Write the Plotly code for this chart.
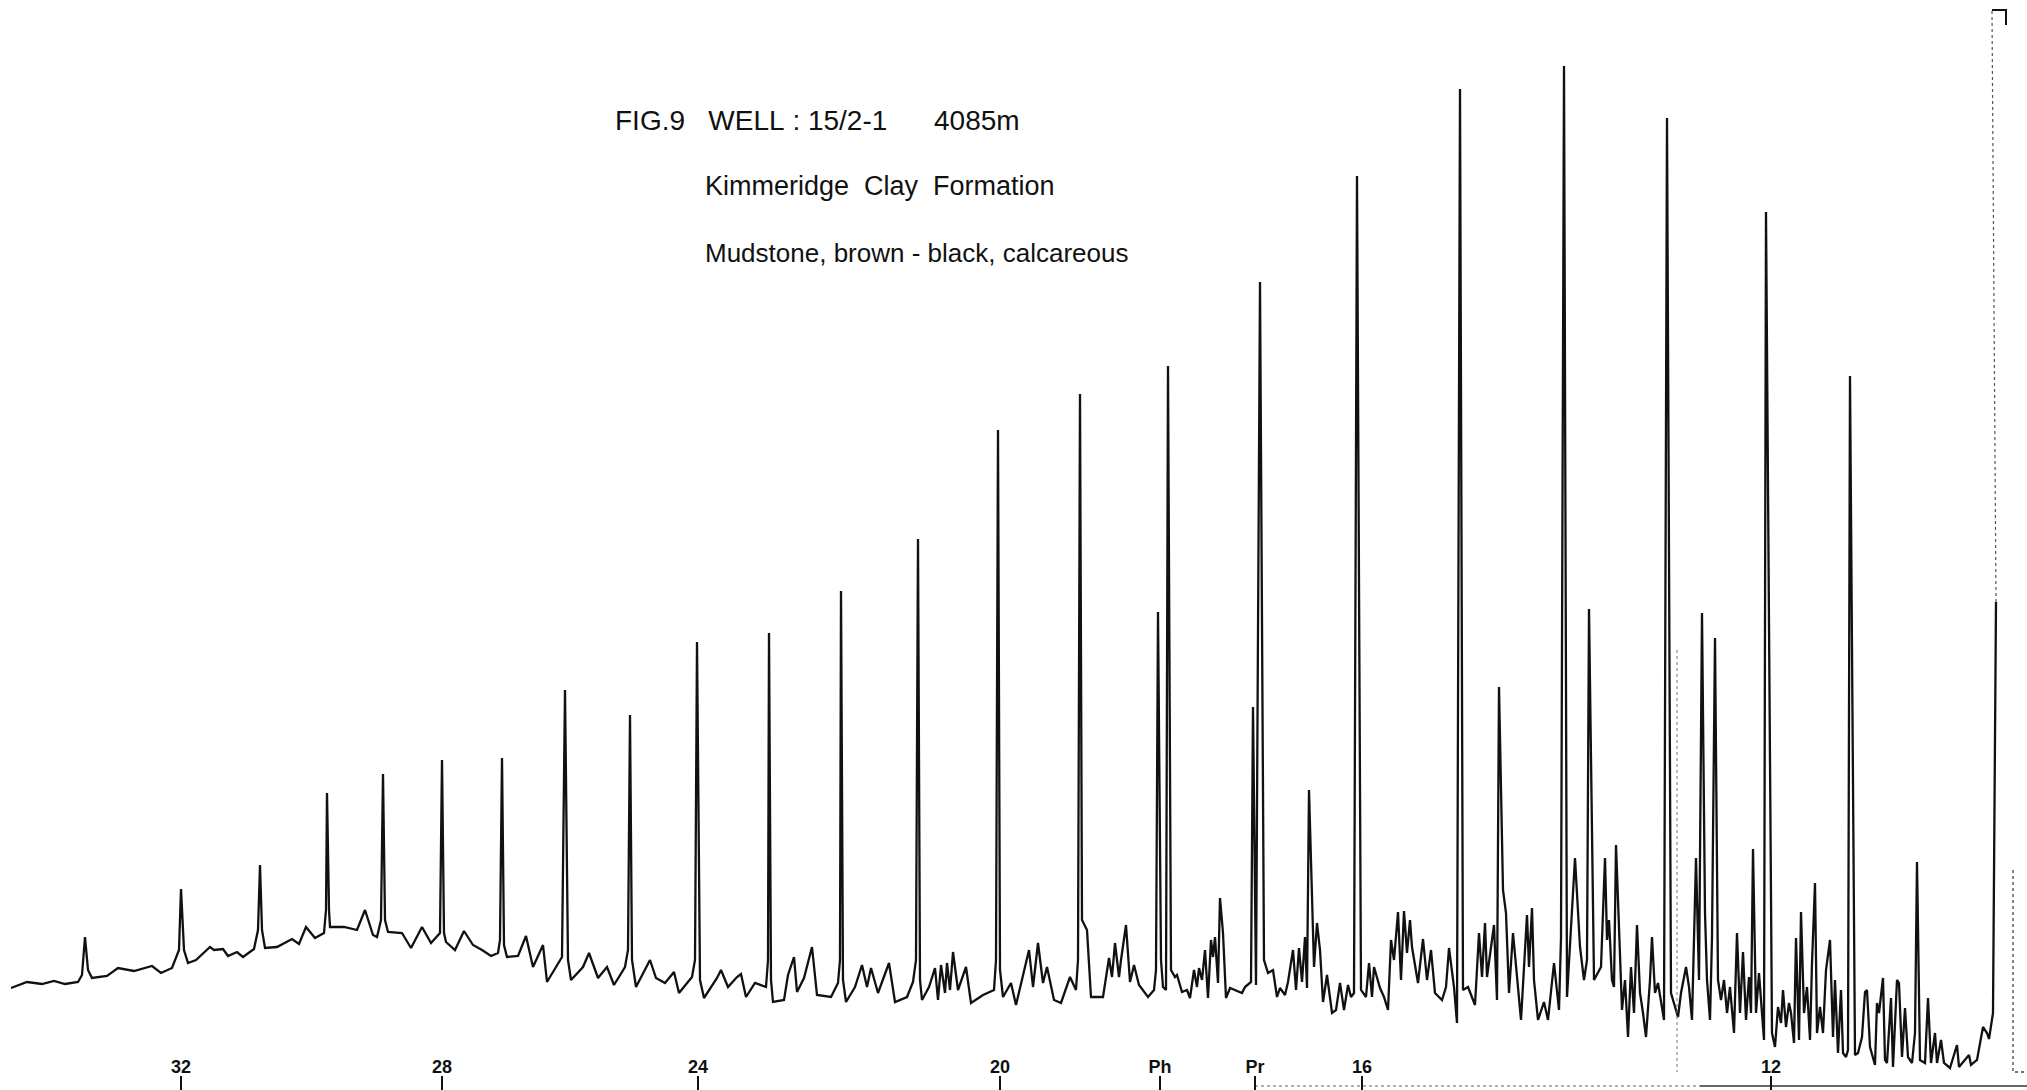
import plotly.graph_objects as go

# ---- Major resolved peaks (n-alkanes, pristane, phytane, solvent front) ----
peak_rt = [85, 181, 260, 327, 383, 442, 502, 565, 630, 697, 769, 841, 918, 998,
           1080, 1158, 1168, 1253, 1260, 1309, 1357, 1460, 1499, 1564, 1589,
           1667, 1702, 1715, 1766, 1850, 1917, 1996]
peak_height = [153, 201, 225, 297, 316, 330, 332, 400, 375, 448, 457, 499, 551, 660,
               696, 478, 724, 383, 808, 300, 914, 1001, 403, 1024, 481,
               972, 477, 452, 878, 714, 228, 488]

# ---- Baseline / unresolved hump and minor peaks ----
trace_rt = [11, 27, 42, 54, 65, 78, 82, 88, 92, 107, 118, 134, 152, 161, 172, 179, 184, 188, 196,
            210, 214, 223, 228, 237, 243, 254, 258, 262, 265, 277, 292, 299, 306, 315, 324, 326,
            329, 330, 344, 357, 365, 373, 377, 381, 385, 388, 402, 411, 422, 431, 440, 444, 446,
            455, 464, 473, 482, 491, 498, 500, 504, 507, 518, 526, 533, 543, 547, 562, 568, 571,
            583, 589, 598, 607, 614, 625, 628, 632, 636, 650, 656, 665, 674, 679, 692, 695, 700,
            704, 717, 721, 728, 737, 741, 746, 755, 766, 768, 771, 773, 784, 788, 794, 797, 804,
            812, 817, 831, 838, 840, 843, 846, 855, 862, 867, 871, 878, 889, 895, 907, 913, 916,
            920, 922, 929, 935, 938, 941, 945, 947, 950, 953, 958, 966, 971, 983, 994, 996, 1000,
            1003, 1011, 1016, 1024, 1029, 1033, 1038, 1043, 1047, 1054, 1061, 1070, 1076, 1078,
            1082, 1087, 1091, 1103, 1109, 1112, 1115, 1119, 1121, 1126, 1130, 1134, 1139, 1148,
            1154, 1156, 1161, 1163, 1166, 1171, 1175, 1177, 1182, 1187, 1190, 1194, 1197, 1199,
            1202, 1205, 1208, 1211, 1213, 1215, 1218, 1220, 1223, 1226, 1230, 1242, 1245, 1251,
            1256, 1264, 1268, 1273, 1277, 1280, 1285, 1288, 1293, 1296, 1299, 1302, 1305, 1307,
            1314, 1317, 1320, 1323, 1327, 1332, 1336, 1340, 1344, 1348, 1351, 1354, 1361, 1366,
            1369, 1372, 1374, 1380, 1384, 1388, 1391, 1394, 1398, 1401, 1404, 1407, 1410, 1412,
            1418, 1423, 1427, 1431, 1435, 1442, 1446, 1449, 1454, 1457, 1463, 1468, 1475, 1479,
            1482, 1485, 1487, 1494, 1497, 1503, 1506, 1509, 1513, 1521, 1527, 1529, 1532, 1534,
            1538, 1544, 1548, 1551, 1554, 1559, 1561, 1567, 1575, 1580, 1584, 1587, 1592, 1594,
            1601, 1605, 1607, 1609, 1612, 1614, 1616, 1619, 1622, 1625, 1628, 1631, 1634, 1637,
            1640, 1643, 1646, 1650, 1652, 1655, 1658, 1664, 1671, 1678, 1681, 1686, 1689, 1692,
            1696, 1699, 1705, 1707, 1710, 1712, 1718, 1721, 1724, 1727, 1730, 1734, 1737, 1740,
            1743, 1746, 1749, 1751, 1753, 1756, 1759, 1762, 1764, 1772, 1775, 1778, 1781, 1783,
            1786, 1789, 1791, 1794, 1796, 1799, 1801, 1804, 1807, 1810, 1812, 1815, 1817, 1820,
            1823, 1826, 1830, 1833, 1835, 1838, 1841, 1843, 1846, 1848, 1855, 1858, 1862, 1865,
            1867, 1870, 1875, 1877, 1879, 1883, 1885, 1887, 1891, 1893, 1897, 1899, 1902, 1905,
            1908, 1912, 1915, 1920, 1925, 1928, 1931, 1935, 1937, 1941, 1944, 1950, 1957, 1959,
            1969, 1971, 1977, 1983, 1987, 1989, 1993]
trace_resp = [102, 108, 106, 109, 106, 108, 115, 120, 112, 114, 122, 119, 124, 117, 122, 140, 140, 127, 130,
              143, 140, 141, 134, 138, 133, 141, 160, 160, 142, 143, 151, 146, 163, 152, 157, 180,
              180, 163, 163, 160, 180, 155, 153, 170, 170, 158, 157, 142, 163, 147, 157, 157, 148,
              140, 159, 145, 140, 134, 137, 150, 145, 133, 134, 154, 123, 145, 108, 133, 130, 110,
              123, 137, 112, 123, 105, 123, 140, 130, 103, 130, 112, 107, 118, 97, 113, 130, 110,
              92, 112, 120, 103, 113, 116, 93, 107, 103, 130, 110, 88, 90, 115, 133, 98, 112,
              143, 95, 93, 107, 130, 110, 88, 103, 125, 103, 122, 97, 127, 88, 93, 108, 130,
              110, 90, 103, 122, 90, 125, 97, 127, 100, 138, 100, 123, 87, 95, 100, 130, 120,
              93, 107, 85, 119, 140, 103, 147, 107, 123, 90, 87, 113, 100, 130,
              170, 160, 93, 93, 132, 113, 147, 113, 130, 165, 108, 125, 105, 93,
              100, 120, 130, 103, 100, 120, 113, 115, 98, 100, 92, 120, 103, 122,
              110, 140, 92, 150, 133, 153, 107, 192, 157, 92, 102, 97, 103, 108,
              105, 130, 117, 120, 93, 102, 95, 108, 140, 100, 142, 108, 153, 102,
              123, 167, 140, 88, 115, 77, 80, 107, 80, 105, 93, 97, 100, 93,
              127, 93, 123, 102, 93, 80, 150, 130, 178, 110, 179, 137, 170, 143,
              107, 151, 110, 140, 97, 90, 103, 142, 103, 67, 100, 103, 85, 157,
              113, 167, 113, 165, 90, 200, 177, 97, 157, 70, 175, 123, 182, 110,
              70, 88, 70, 98, 127, 80, 152, 93, 232, 143, 110, 130, 253, 110,
              123, 232, 150, 170, 110, 103, 245, 160, 80, 110, 53, 123, 77, 165,
              97, 77, 53, 110, 153, 97, 107, 70, 97, 73, 97, 123, 103, 70,
              232, 110, 177, 110, 70, 153, 110, 90, 110, 77, 103, 57, 157, 77,
              138, 70, 113, 77, 241, 77, 117, 70, 50, 57, 43, 83, 67, 100,
              63, 87, 77, 47, 152, 50, 178, 77, 103, 50, 127, 207, 57, 83,
              57, 120, 150, 53, 110, 37, 100, 37, 33, 40, 35, 37, 53, 98,
              100, 43, 25, 87, 77, 112, 30, 27, 92, 23, 110, 107, 33, 82,
              33, 27, 57, 30, 27, 92, 27, 57, 27, 50, 27, 22, 45, 23,
              35, 25, 30, 63, 57, 51, 77]

# solvent peak continuation (pen moving fast, drawn faint) and recorder box
solvent_rise_rt = [1996, 1992]
solvent_rise_resp = [488, 1080]
solvent_box_rt = [1992, 2006, 2006]
solvent_box_resp = [1080, 1080, 1065]
solvent_fall_rt = [2013, 2013, 2027]
solvent_fall_resp = [220, 18, 18]

# injection marker (faint vertical line)
marker_rt = [1677, 1677]
marker_resp = [440, 18]

# time axis baseline (recorder chart line)
axis_dotted_rt = [1255, 1700]
axis_solid_rt = [1700, 2027]
axis_resp = [4, 4]

# carbon-number / isoprenoid labels along the bottom
tick_rt = [181, 442, 698, 1000, 1160, 1255, 1362, 1771]
tick_text = ["32", "28", "24", "20", "Ph", "Pr", "16", "12"]

title_lines = ["FIG.9\u00a0\u00a0\u00a0WELL\u00a0:\u00a015/2-1\u00a0\u00a0\u00a0\u00a0\u00a0\u00a04085m",
               "Kimmeridge\u00a0\u00a0Clay\u00a0\u00a0Formation",
               "Mudstone,\u00a0brown\u00a0-\u00a0black,\u00a0calcareous"]

pts = sorted(list(zip(trace_rt, trace_resp)) + list(zip(peak_rt, peak_height)))
xs = [p[0] for p in pts]
ys = [p[1] for p in pts]

ink = "#111111"
fig = go.Figure()
fig.add_trace(go.Scatter(x=xs, y=ys, mode="lines",
                         line=dict(color=ink, width=2.3), hoverinfo="skip"))
fig.add_trace(go.Scatter(x=solvent_rise_rt, y=solvent_rise_resp, mode="lines",
                         line=dict(color="#555555", width=1.2, dash="dot"), hoverinfo="skip"))
fig.add_trace(go.Scatter(x=solvent_box_rt, y=solvent_box_resp, mode="lines",
                         line=dict(color=ink, width=2), hoverinfo="skip"))
fig.add_trace(go.Scatter(x=solvent_fall_rt, y=solvent_fall_resp, mode="lines",
                         line=dict(color="#444444", width=1.3, dash="dot"), hoverinfo="skip"))
fig.add_trace(go.Scatter(x=marker_rt, y=marker_resp, mode="lines",
                         line=dict(color="#777777", width=1, dash="dot"), hoverinfo="skip"))
fig.add_trace(go.Scatter(x=axis_dotted_rt, y=axis_resp, mode="lines",
                         line=dict(color="#666666", width=1.2, dash="dot"), hoverinfo="skip"))
fig.add_trace(go.Scatter(x=axis_solid_rt, y=axis_resp, mode="lines",
                         line=dict(color="#333333", width=1.3), hoverinfo="skip"))

title_x = [613, 703, 703]
title_y = [970, 904, 837]
title_size = [28, 27, 26]
for t, tx, ty, ts in zip(title_lines, title_x, title_y, title_size):
    fig.add_annotation(x=tx, y=ty, xref="x", yref="y", text=t, showarrow=False,
                       xanchor="left", yanchor="middle",
                       font=dict(family="Liberation Sans, Arial, sans-serif", size=ts, color=ink))

fig.update_layout(
    width=2027, height=1090,
    margin=dict(l=0, r=0, t=0, b=0),
    paper_bgcolor="white", plot_bgcolor="white",
    showlegend=False,
    xaxis=dict(range=[0, 2027], showgrid=False, zeroline=False, showline=False,
               tickmode="array", tickvals=tick_rt,
               ticktext=["<b>" + t + "</b>" for t in tick_text],
               ticks="inside", ticklen=14, tickwidth=1.8, tickcolor=ink,
               ticklabelposition="inside",
               tickfont=dict(family="Liberation Sans Narrow, Liberation Sans, Arial, sans-serif",
                             size=18, color=ink)),
    yaxis=dict(range=[0, 1090], visible=False, showgrid=False, zeroline=False),
)

fig.write_html("out.html")
